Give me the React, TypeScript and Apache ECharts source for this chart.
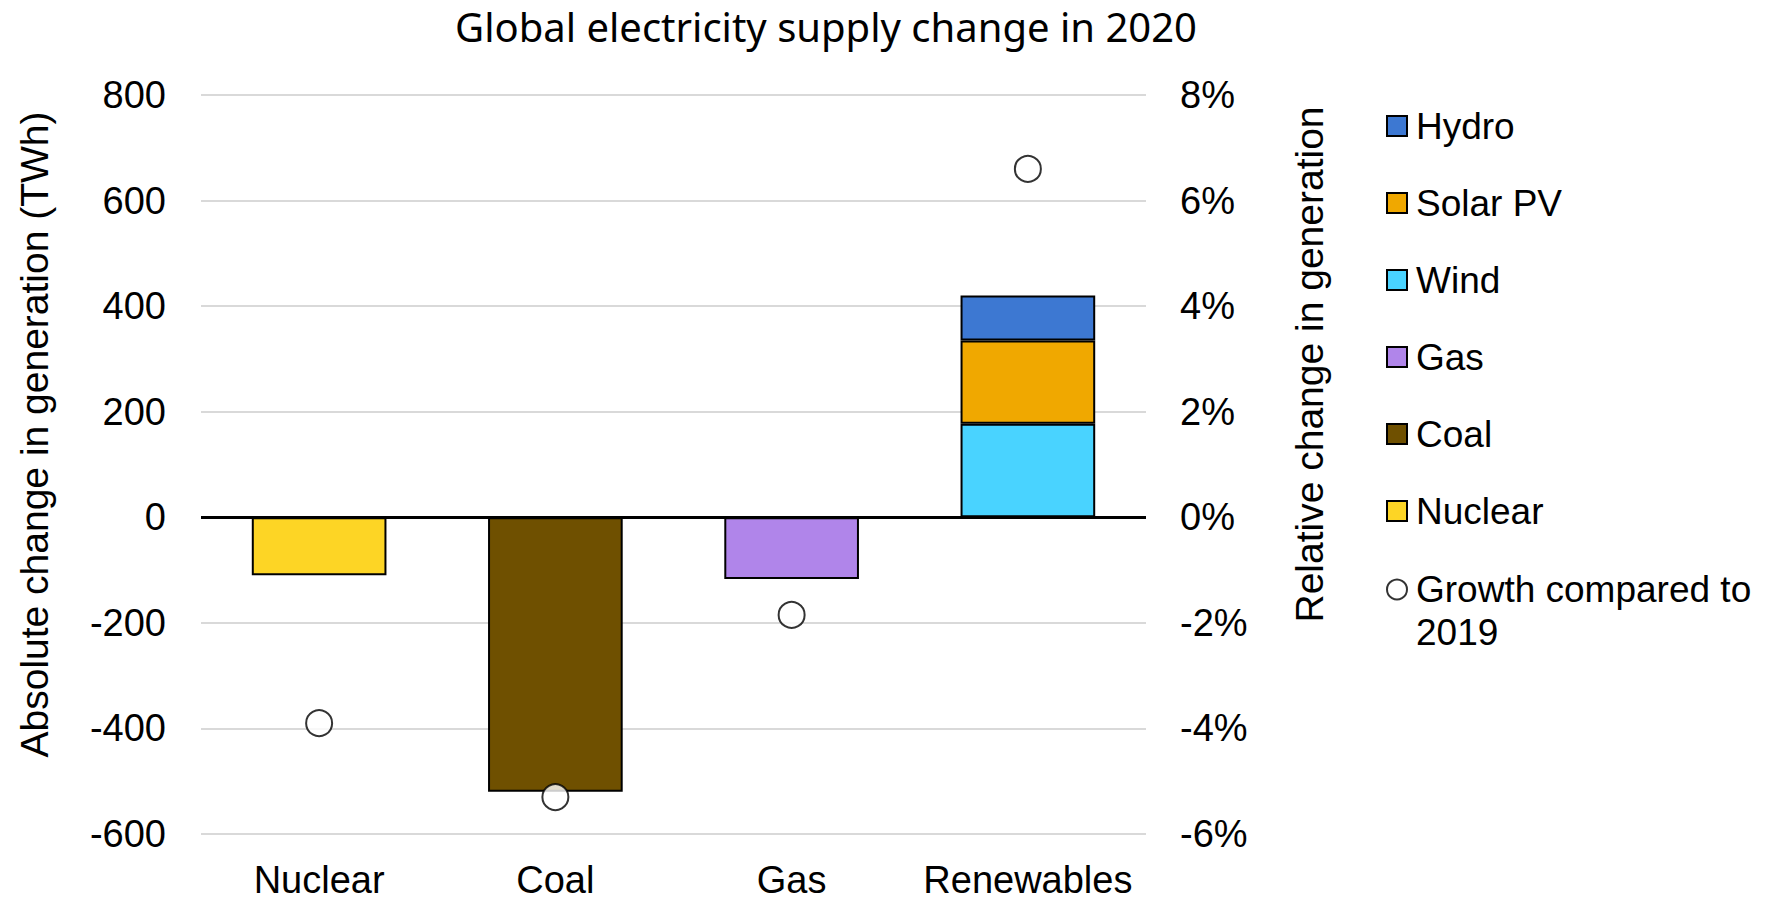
import { useEffect, useRef } from 'react';
import * as echarts from 'echarts';

// Categories along the horizontal axis
const categories = ['Nuclear', 'Coal', 'Gas', 'Renewables'];

// Absolute change in generation, TWh (one column per category)
const nuclearTWh = [-110, null, null, null];
const coalTWh = [null, -520, null, null];
const gasTWh = [null, null, -117, null];
const windTWh = [null, null, null, 177];
const solarTWh = [null, null, null, 158];
const hydroTWh = [null, null, null, 85];

// Relative change vs 2019, percent
const growthPct = [-3.9, -5.3, -1.85, 6.6];

// Axis ranges
const leftAxis = { min: -600, max: 800, interval: 200 };
const rightAxis = { min: -6, max: 8, interval: 2 };

const legendOrder = ['Hydro', 'Solar PV', 'Wind', 'Gas', 'Coal', 'Nuclear'];
const growthName = 'Growth compared to 2019';

const SANS = '"Liberation Sans", Arial, sans-serif';
const BORDER = { borderColor: '#000', borderWidth: 2 };

export default function App() {
  const ref = useRef<HTMLDivElement>(null);

  useEffect(() => {
    document.body.style.margin = '0';
    if (!ref.current) return;
    const chart = echarts.init(ref.current, undefined, { renderer: 'svg' });

    const barSeries = (name: string, data: (number | null)[], color: string, extra: any = {}) => ({
      name,
      type: 'bar',
      stack: 'supply',
      data: data.map((v) => (v === null ? '-' : v)),
      barCategoryGap: '43%',
      itemStyle: { color, ...BORDER },
      ...extra,
    });

    chart.setOption({
      animation: false,
      backgroundColor: '#fff',
      title: {
        text: 'Global electricity supply change in 2020',
        left: 826,
        top: 6,
        padding: 0,
        textAlign: 'center',
        textStyle: { fontFamily: '"Noto Sans", "Open Sans", sans-serif', fontSize: 40, fontWeight: 'normal', color: '#000' },
      },
      legend: [
        {
          orient: 'vertical',
          left: 1381,
          top: 101,
          icon: 'rect',
          itemWidth: 20,
          itemHeight: 20,
          itemGap: 37,
          selectedMode: false,
          data: legendOrder,
          textStyle: { fontFamily: SANS, fontSize: 37, lineHeight: 40, color: '#000', padding: [0, 0, 0, 4] },
        },
        {
          orient: 'vertical',
          left: 1381,
          top: 520,
          icon: 'circle',
          itemWidth: 20,
          itemHeight: 20,
          selectedMode: false,
          data: [growthName],
          formatter: () => '\nGrowth compared to\n2019',
          textStyle: { fontFamily: SANS, fontSize: 37, lineHeight: 43, color: '#000', padding: [0, 0, 0, 4] },
        },
      ],
      grid: { left: 201, right: 632, top: 95, bottom: 67 },
      xAxis: {
        type: 'category',
        data: categories,
        axisLine: { show: false, onZero: false },
        axisTick: { show: false },
        axisLabel: { interval: 0, fontFamily: SANS, fontSize: 38, lineHeight: 36, color: '#000', margin: 28 },
      },
      yAxis: [
        {
          type: 'value',
          ...leftAxis,
          name: 'Absolute change in generation (TWh)',
          nameLocation: 'middle',
          nameGap: 147,
          nameTextStyle: { fontFamily: SANS, fontSize: 39, color: '#000', padding: [0, 0, 0, 60] },
          axisLine: { show: false },
          axisTick: { show: false },
          axisLabel: { fontFamily: SANS, fontSize: 38, color: '#000', margin: 35 },
          splitLine: { lineStyle: { color: '#D9D9D9', width: 2 } },
        },
        {
          type: 'value',
          ...rightAxis,
          position: 'right',
          name: 'Relative change in generation',
          nameLocation: 'middle',
          nameGap: 144,
          nameTextStyle: { fontFamily: SANS, fontSize: 39, color: '#000', padding: [0, 0, 0, 200] },
          axisLine: { show: false },
          axisTick: { show: false },
          axisLabel: { fontFamily: SANS, fontSize: 38, color: '#000', margin: 34, formatter: '{value}%' },
          splitLine: { show: false },
        },
      ],
      series: [
        barSeries('Nuclear', nuclearTWh, '#FDD525', {
          markLine: {
            silent: true,
            symbol: ['none', 'none'],
            label: { show: false },
            lineStyle: { color: '#000', width: 3, type: 'solid' },
            data: [{ yAxis: 0 }],
            z: 5,
          },
        }),
        barSeries('Coal', coalTWh, '#6F5000'),
        barSeries('Gas', gasTWh, '#B085EA'),
        barSeries('Wind', windTWh, '#49D3FF'),
        barSeries('Solar PV', solarTWh, '#F0A800'),
        barSeries('Hydro', hydroTWh, '#3D78D2'),
        {
          name: growthName,
          type: 'scatter',
          yAxisIndex: 1,
          data: growthPct,
          symbol: 'circle',
          symbolSize: 26,
          z: 6,
          itemStyle: { color: '#fff', ...BORDER },
        },
      ],
    });

    return () => chart.dispose();
  }, []);

  return <div ref={ref} style={{ width: 1778, height: 901 }} />;
}
